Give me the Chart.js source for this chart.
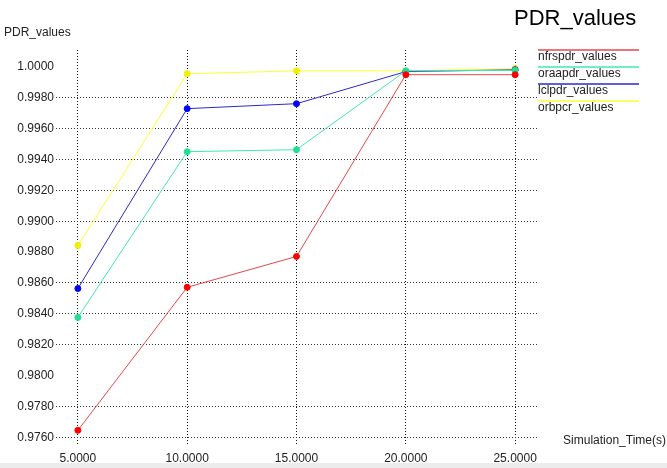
<!DOCTYPE html>
<html>
<head>
<meta charset="utf-8">
<script src="https://cdn.jsdelivr.net/npm/chart.js@4/dist/chart.umd.min.js"></script>
<style>
  body { margin: 0; background: #fff; }
  #wrap { width: 667px; height: 468px; }
</style>
</head>
<body>
<div id="wrap"><canvas id="myChart" width="667" height="468"></canvas></div>
<script>
// data
var times = [5, 10, 15, 20, 25];
var nfrspdrValues = [0.97645, 0.98572, 0.98772, 0.99950, 0.99950];
var oraapdrValues = [0.98377, 0.99451, 0.99464, 0.99975, 0.99978];
var lclpdrValues  = [0.98564, 0.99730, 0.99762, 0.99970, 0.99982];
var orbpcrValues  = [0.98843, 0.99956, 0.99975, 0.99975, 0.99990];
var yTicks = [0.976, 0.978, 0.980, 0.982, 0.984, 0.986, 0.988, 0.990, 0.992, 0.994, 0.996, 0.998, 1.000];
var hiddenGrid = [1.000, 0.988, 0.980];

var FONT = "'Liberation Sans', Arial, sans-serif";

function toPoints(vals) {
    var pts = [];
    for (var i = 0; i < times.length; i++) {
        pts.push({ x: times[i], y: vals[i] });
    }
    return pts;
}

function series(label, vals, lineColor, dotColor) {
    return {
        label: label,
        data: toPoints(vals),
        borderColor: lineColor,
        backgroundColor: dotColor,
        pointBackgroundColor: dotColor,
        pointBorderColor: dotColor,
        borderWidth: 1,
        pointRadius: 3,
        tension: 0
    };
}

// title, axis titles, legend and the grey strip at the bottom
var decorations = {
    id: 'decorations',
    beforeDraw(chart) {
        var ctx = chart.ctx;
        ctx.save();
        ctx.fillStyle = '#ececec';
        ctx.fillRect(0, 463, 667, 5);
        ctx.restore();
    },
    afterDraw(chart) {
        var ctx = chart.ctx;
        ctx.save();
        ctx.fillStyle = '#000';
        ctx.textBaseline = 'middle';
        ctx.textAlign = 'left';
        ctx.font = '22px ' + FONT;
        ctx.fillText('PDR_values', 514, 19);
        ctx.font = '12px ' + FONT;
        ctx.fillStyle = '#222';
        ctx.fillText('PDR_values', 4, 33);
        ctx.textAlign = 'right';
        ctx.fillText('Simulation_Time(s)', 666, 441);

        ctx.textAlign = 'left';
        var y0 = 50;
        chart.data.datasets.forEach(function (ds, i) {
            var ly = y0 + i * 17;
            ctx.strokeStyle = ds.borderColor;
            ctx.lineWidth = 1.5;
            ctx.beginPath();
            ctx.moveTo(538, ly);
            ctx.lineTo(639, ly);
            ctx.stroke();
            ctx.fillStyle = '#222';
            ctx.fillText(ds.label, 538, ly + 7);
        });
        ctx.restore();
    }
};

new Chart(document.getElementById('myChart').getContext('2d'), {
    type: 'line',
    data: {
        datasets: [
            series('nfrspdr_values', nfrspdrValues, 'rgba(225,40,40,0.85)', '#ff0000'),
            series('oraapdr_values', oraapdrValues, '#40e8b0', '#20e090'),
            series('lclpdr_values', lclpdrValues, '#2a2ac8', '#0000ff'),
            series('orbpcr_values', orbpcrValues, '#ffff30', '#f0f000')
        ]
    },
    options: {
        responsive: false,
        animation: false,
        layout: { padding: { top: 50, right: 130, left: 0, bottom: 0 } },
        plugins: {
            legend: { display: false },
            title: { display: false },
            tooltip: { enabled: false }
        },
        scales: {
            x: {
                type: 'linear',
                min: 4,
                max: 26,
                afterBuildTicks(scale) {
                    scale.ticks = times.map(function (t) { return { value: t }; });
                },
                afterFit(scale) { scale.height = 23; },
                border: { display: false, dash: [1, 2] },
                grid: { color: '#111', drawTicks: false, lineWidth: 1 },
                ticks: {
                    padding: 6,
                    color: '#222',
                    font: { family: FONT, size: 12 },
                    callback: function (v) { return v.toFixed(4); }
                }
            },
            y: {
                min: 0.9755,
                max: 1.0011,
                afterBuildTicks(scale) {
                    scale.ticks = yTicks.map(function (t) { return { value: t }; });
                },
                afterFit(scale) { scale.width = 56; },
                border: { display: false, dash: [1, 2] },
                grid: {
                    drawTicks: false,
                    lineWidth: 1,
                    color: function (c) {
                        var v = c.tick ? c.tick.value : null;
                        for (var i = 0; i < hiddenGrid.length; i++) {
                            if (v !== null && Math.abs(v - hiddenGrid[i]) < 1e-6) return 'rgba(0,0,0,0)';
                        }
                        return '#333';
                    }
                },
                ticks: {
                    padding: 2,
                    color: '#222',
                    font: { family: FONT, size: 12 },
                    callback: function (v) { return v.toFixed(4); }
                }
            }
        }
    },
    plugins: [decorations]
});
</script>
</body>
</html>
